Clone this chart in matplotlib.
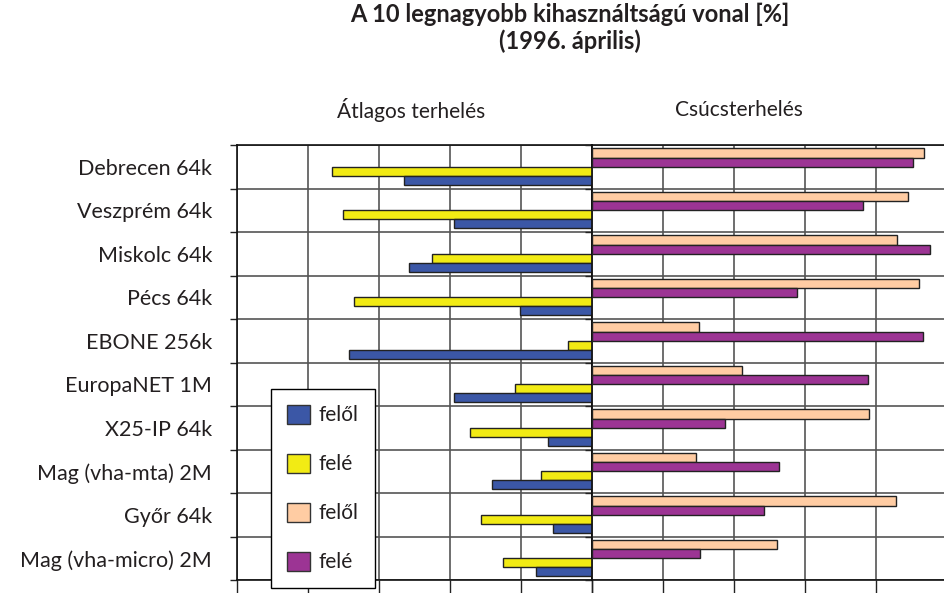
import numpy as np
import matplotlib
matplotlib.use("Agg")
import matplotlib.pyplot as plt
from matplotlib.patches import Patch

plt.rcParams["font.family"] = ["Lato", "DejaVu Sans"]
plt.rcParams["text.color"] = "#231f20"

# data (percent)
lines = [
    "Debrecen 64k", "Veszprém 64k", "Miskolc 64k", "Pécs 64k", "EBONE 256k",
    "EuropaNET 1M", "X25-IP 64k", "Mag (vha-mta) 2M", "Győr 64k", "Mag (vha-micro) 2M",
]
avg_from = [53.0, 38.9, 51.5, 20.2, 68.5, 38.9, 12.4, 28.2, 11.0, 15.7]
avg_to = [73.2, 70.1, 45.2, 67.0, 6.9, 21.6, 34.3, 14.5, 31.2, 25.1]
peak_from = [93.6, 88.9, 85.8, 92.1, 30.0, 42.2, 78.0, 29.4, 85.7, 52.2]
peak_to = [90.5, 76.4, 95.2, 57.7, 93.1, 77.8, 37.5, 52.8, 48.4, 30.5]
legend_labels = ["felől", "felé", "felől", "felé"]

c_blue = "#3b57a6"
c_yellow = "#f2eb14"
c_peach = "#ffcca3"
c_purple = "#9c3494"
edge = "#222222"
grid_c = "#555555"

fig = plt.figure(figsize=(9.44, 5.93), dpi=100)
W, H = 944, 593


def fig_rect(x0, y0, x1, y1):
    return [x0 / W, 1 - y1 / H, (x1 - x0) / W, (y1 - y0) / H]


ax1 = fig.add_axes(fig_rect(237, 145, 592, 580))
ax2 = fig.add_axes(fig_rect(592, 145, 947, 580))

n = len(lines)
idx = np.arange(n)
h = 0.2075
off = [0.08 + h * (k + 0.5) for k in range(4)]

ax2.barh(idx + off[0], peak_from, height=h, color=c_peach, edgecolor=edge, linewidth=1, zorder=3)
ax2.barh(idx + off[1], peak_to, height=h, color=c_purple, edgecolor=edge, linewidth=1, zorder=3)
ax1.barh(idx + off[2], avg_to, height=h, color=c_yellow, edgecolor=edge, linewidth=1, zorder=3)
ax1.barh(idx + off[3], avg_from, height=h, color=c_blue, edgecolor=edge, linewidth=1, zorder=3)

for ax in (ax1, ax2):
    ax.set_ylim(n, 0)
    ax.set_xticks(np.arange(0, 101, 20))
    ax.set_xticklabels([])
    ax.set_yticks(np.arange(0, n + 1))
    ax.set_yticklabels([])
    ax.grid(True, color=grid_c, linewidth=1.2, zorder=0)
    ax.set_axisbelow(True)
    ax.tick_params(axis="x", direction="out", length=9, width=1, colors="#222222")
    ax.tick_params(axis="y", direction="out", length=5, width=1, colors="#222222")
    for s in ax.spines.values():
        s.set_color("#111111")
        s.set_linewidth(1.2)

ax1.set_xlim(100, 0)
ax2.set_xlim(0, 100)

ax1.set_yticks(idx + 0.5, minor=True)
ax1.set_yticklabels(lines, minor=True, fontsize=15.5, color="#231f20")
ax1.tick_params(axis="y", which="minor", length=0, pad=18)

fig.text(570 / W, 1 - 28 / H, "A 10 legnagyobb kihasználtságú vonal [%]\n(1996. április)",
         ha="center", va="center", fontsize=17, fontweight="bold", linespacing=1.15)
fig.text(411 / W, 1 - 110 / H, "Átlagos terhelés", ha="center", va="center", fontsize=15)
fig.text(739 / W, 1 - 110 / H, "Csúcsterhelés", ha="center", va="center", fontsize=15)

handles = [Patch(facecolor=c, edgecolor="#333333", linewidth=1)
           for c in (c_blue, c_yellow, c_peach, c_purple)]
leg = ax1.legend(handles, legend_labels, loc="upper left",
                 bbox_to_anchor=(271 / W, 1 - 389 / H), bbox_transform=fig.transFigure,
                 fontsize=15, frameon=True, fancybox=False, framealpha=1,
                 edgecolor="black", borderpad=0.75, labelspacing=1.35,
                 handlelength=1.1, handleheight=1.06, handletextpad=0.45,
                 borderaxespad=0)
leg.get_frame().set_linewidth(1)
leg.set_zorder(10)

fig.savefig("out.png", dpi=100)
